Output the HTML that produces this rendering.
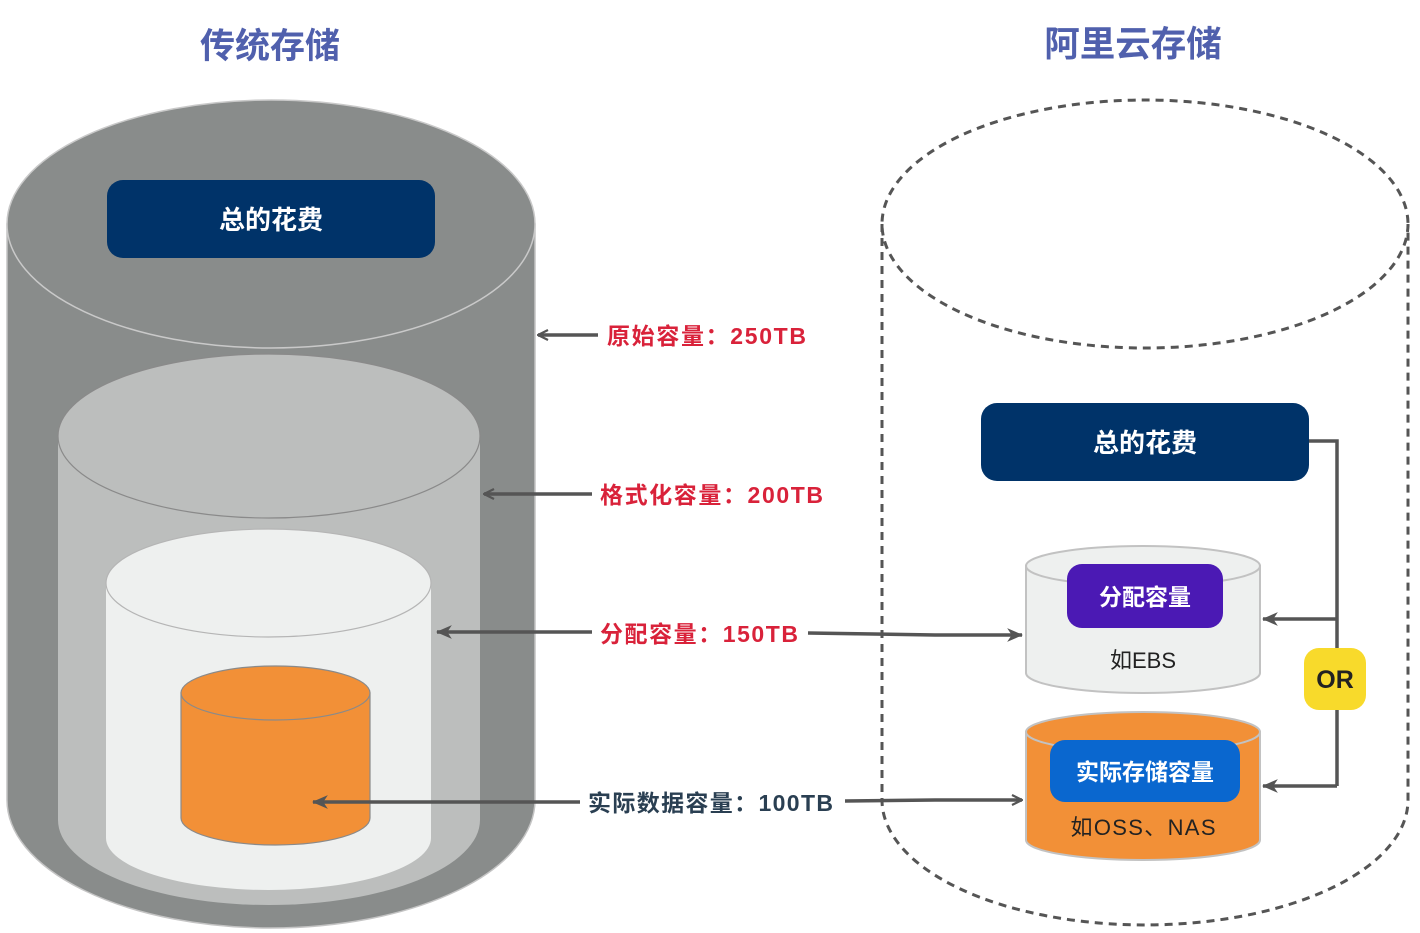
<!DOCTYPE html>
<html><head><meta charset="utf-8"><style>
html,body{margin:0;padding:0;background:#fff;}
svg{display:block;}
text{font-family:"Liberation Sans","Noto Sans CJK SC",sans-serif;font-weight:bold;}
</style></head><body>
<svg width="1420" height="933" viewBox="0 0 1420 933" xmlns="http://www.w3.org/2000/svg">
<defs>
<marker id="ar" viewBox="0 0 12 12" refX="11" refY="6" markerWidth="12" markerHeight="12" markerUnits="userSpaceOnUse" orient="auto">
<path d="M1,1 L11,6 L1,11" fill="none" stroke="#555" stroke-width="2.2"/></marker>
<marker id="af" viewBox="0 0 14 14" refX="13" refY="7" markerWidth="16" markerHeight="16" markerUnits="userSpaceOnUse" orient="auto">
<path d="M0,1 L14,7 L0,13 L4,7 Z" fill="#555"/></marker>
</defs>
<text x="270" y="58" font-size="35" fill="#5060ad" text-anchor="middle">传统存储</text>
<text x="1133" y="56" font-size="35.5" fill="#5060ad" text-anchor="middle">阿里云存储</text>

<path d="M7,224 L7,800 A264,128 0 0 0 535,800 L535,224 Z" fill="#898c8b" stroke="#c4c4c4" stroke-width="1.5"/>
<ellipse cx="271" cy="224" rx="264" ry="124" fill="#898c8b" stroke="#c9c9c9" stroke-width="1.5"/>
<rect x="107" y="180" width="328" height="78" rx="16" fill="#003369"/>
<text x="271" y="229" font-size="26" fill="#fff" text-anchor="middle">总的花费</text>
<path d="M58,436 L58,820 A211,85 0 0 0 480,820 L480,436 Z" fill="#bcbebd"/>
<ellipse cx="269" cy="436" rx="211" ry="82" fill="#bcbebd" stroke="#8a8a8a" stroke-width="1.2"/>
<path d="M106,583 L106,838 A162.5,52 0 0 0 431,838 L431,583 Z" fill="#eef0ef"/>
<ellipse cx="268.5" cy="583" rx="162.5" ry="54" fill="#eef0ef" stroke="#b5b5b5" stroke-width="1.2"/>
<path d="M181,693 L181,818 A94.5,27 0 0 0 370,818 L370,693 Z" fill="#f29037" stroke="#8a8a8a" stroke-width="1.2"/>
<ellipse cx="275.5" cy="693" rx="94.5" ry="27" fill="#f29037" stroke="#8a8a8a" stroke-width="1.2"/>

<path d="M882,224 L882,800 A263,125 0 0 0 1408,800 L1408,224" fill="none" stroke="#555" stroke-width="3" stroke-dasharray="8,6"/>
<ellipse cx="1145" cy="224" rx="263" ry="124" fill="none" stroke="#555" stroke-width="3" stroke-dasharray="8,6"/>

<rect x="981" y="403" width="328" height="78" rx="16" fill="#003369"/>
<text x="1145" y="452" font-size="26" fill="#fff" text-anchor="middle">总的花费</text>

<path d="M1026,566 L1026,673 A117,20 0 0 0 1260,673 L1260,566 Z" fill="#eef0ef" stroke="#c2c2c2" stroke-width="2"/>
<ellipse cx="1143" cy="566" rx="117" ry="20" fill="#eef0ef" stroke="#c2c2c2" stroke-width="2"/>
<rect x="1067" y="564" width="156" height="64" rx="15" fill="#4b19b4"/>
<text x="1145" y="605" font-size="23" fill="#fff" text-anchor="middle">分配容量</text>
<text x="1143" y="668" font-size="22" fill="#222" style="font-weight:normal" text-anchor="middle">如EBS</text>
<path d="M1026,732 L1026,840 A117,20 0 0 0 1260,840 L1260,732 Z" fill="#f29037" stroke="#c2c2c2" stroke-width="2"/>
<ellipse cx="1143" cy="732" rx="117" ry="20" fill="#f29037" stroke="#c2c2c2" stroke-width="2"/>
<rect x="1050" y="740" width="190" height="62" rx="15" fill="#0a67cf"/>
<text x="1145" y="780" font-size="23" fill="#fff" text-anchor="middle">实际存储容量</text>
<text x="1143" y="835" font-size="22" fill="#222" style="font-weight:normal" text-anchor="middle" textLength="145" lengthAdjust="spacing">如OSS、NAS</text>

<path d="M1309,441 L1337,441 L1337,786" fill="none" stroke="#555" stroke-width="3.5"/>
<line x1="1337" y1="619" x2="1263" y2="619" stroke="#555" stroke-width="3.5" marker-end="url(#af)"/>
<line x1="1337" y1="786" x2="1263" y2="786" stroke="#555" stroke-width="3.5" marker-end="url(#af)"/>
<rect x="1304" y="648" width="62" height="62" rx="15" fill="#f8da2b"/>
<text x="1335" y="688" font-size="25" fill="#222" text-anchor="middle">OR</text>

<g stroke="#555" stroke-width="3.5" fill="none">
<line x1="598" y1="335" x2="538" y2="335" marker-end="url(#ar)"/>
<line x1="592" y1="494" x2="484" y2="494" marker-end="url(#ar)"/>
<line x1="592" y1="632" x2="437" y2="632" marker-end="url(#af)"/>
<line x1="580" y1="802" x2="313" y2="802" marker-end="url(#af)"/>
<path d="M808,633 L935,635 L1022,635" marker-end="url(#af)"/>
<path d="M845,801 L935,800 L1022,800" marker-end="url(#ar)"/>
</g>
<text x="607" y="344" font-size="23" fill="#d9223a" textLength="199" lengthAdjust="spacing">原始容量：250TB</text>
<text x="600" y="503" font-size="23" fill="#d9223a" textLength="223" lengthAdjust="spacing">格式化容量：200TB</text>
<text x="600" y="642" font-size="23" fill="#d9223a" textLength="198" lengthAdjust="spacing">分配容量：150TB</text>
<text x="588" y="811" font-size="23" fill="#2a3f52" textLength="245" lengthAdjust="spacing">实际数据容量：100TB</text>
</svg>
</body></html>
